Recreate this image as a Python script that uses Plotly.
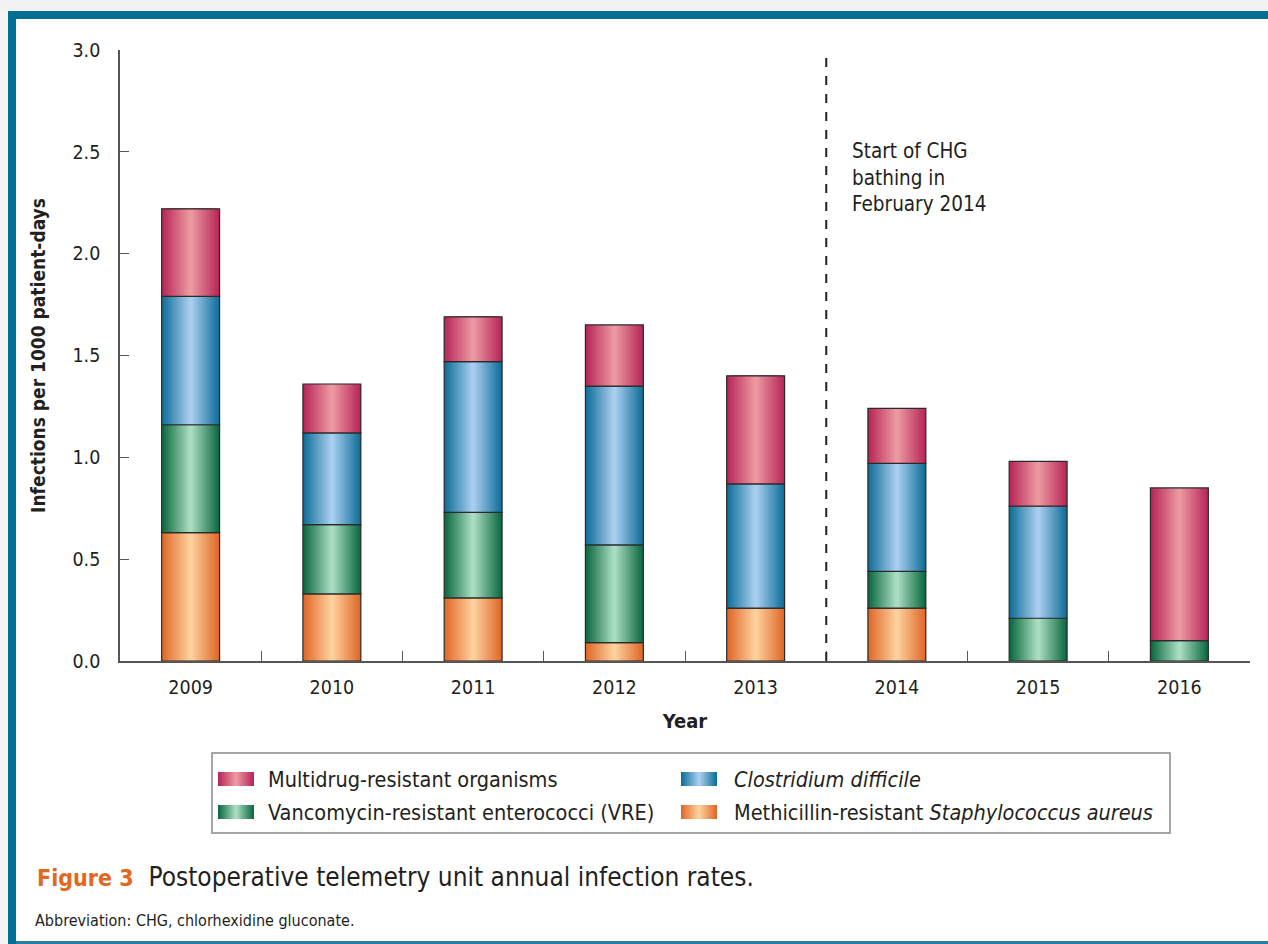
import plotly.graph_objects as go
import numpy as np

# ---------------- data ----------------
years = ['2009', '2010', '2011', '2012', '2013', '2014', '2015', '2016']
mrsa = [0.63, 0.33, 0.31, 0.09, 0.26, 0.26, 0.0, 0.0]
vre = [0.53, 0.34, 0.42, 0.48, 0.0, 0.18, 0.21, 0.10]
cdiff = [0.63, 0.45, 0.74, 0.78, 0.61, 0.53, 0.55, 0.0]
mdro = [0.43, 0.24, 0.22, 0.30, 0.53, 0.27, 0.22, 0.75]

series_names = ['Methicillin-resistant <i>Staphylococcus aureus</i>',
                'Vancomycin-resistant enterococci (VRE)',
                '<i>Clostridium difficile</i>',
                'Multidrug-resistant organisms']
series_values = [mrsa, vre, cdiff, mdro]
edge_colors = ['#e0692a', '#0d6a42', '#11709a', '#b8285a']
center_colors = ['#fdd09c', '#a9dcc0', '#a8cdee', '#eb98a0']

W, H = 1268, 944
ML, MR, MT, MB = 120, 18, 50, 283
PW = W - ML - MR
PH = H - MT - MB
FONT = "Liberation Sans Narrow, DejaVu Sans Condensed, Arial Narrow, sans-serif"
TXT = '#231f20'


def PX(px):
    return (px - ML) / PW


def PY(py):
    return (H - MB - py) / PH


def hex2rgb(h):
    h = h.lstrip('#')
    return np.array([int(h[i:i + 2], 16) for i in (0, 2, 4)], dtype=float)


def lerp(c1, c2, t):
    a, b = hex2rgb(c1), hex2rgb(c2)
    c = a + (b - a) * t
    return 'rgb(%d,%d,%d)' % tuple(np.round(c).astype(int))


BAR_W = 0.41
NSTEP = 14

fig = go.Figure()
cum = np.zeros(len(years))
for name, vals, ec, cc in zip(series_names, series_values, edge_colors, center_colors):
    vals = np.array(vals, dtype=float)
    yv = [v if v > 0 else None for v in vals]
    base = cum.copy()
    for k in range(NSTEP):
        t = k / (NSTEP - 1)
        w = BAR_W * (1 - k / NSTEP)
        fig.add_trace(go.Bar(x=years, y=yv, base=base, width=w,
                             marker=dict(color=lerp(ec, cc, t), line=dict(width=0)),
                             showlegend=False, hoverinfo='skip'))
    fig.add_trace(go.Bar(x=years, y=yv, base=base, width=BAR_W, name=name,
                         marker=dict(color='rgba(0,0,0,0)', line=dict(width=1.2, color='#2a2a2a')),
                         showlegend=False))
    cum = cum + vals

shapes = []
# page decoration
shapes.append(dict(type='rect', xref='paper', yref='paper', x0=PX(0), x1=PX(W), y0=PY(0), y1=PY(10),
                   fillcolor='#f2f2f2', line=dict(width=0), layer='below'))
shapes.append(dict(type='rect', xref='paper', yref='paper', x0=PX(0), x1=PX(8), y0=PY(10), y1=PY(H),
                   fillcolor='#f4f4f4', line=dict(width=0), layer='below'))
shapes.append(dict(type='rect', xref='paper', yref='paper', x0=PX(8), x1=PX(W), y0=PY(11), y1=PY(19),
                   fillcolor='#006f94', line=dict(width=0), layer='below'))
shapes.append(dict(type='rect', xref='paper', yref='paper', x0=PX(8), x1=PX(16), y0=PY(11), y1=PY(H),
                   fillcolor='#006f94', line=dict(width=0), layer='below'))
shapes.append(dict(type='rect', xref='paper', yref='paper', x0=PX(16), x1=PX(W), y0=PY(941), y1=PY(H),
                   fillcolor='#2a7fa0', line=dict(width=0), layer='below'))
# dashed line
shapes.append(dict(type='line', xref='x', yref='y', x0=4.5, x1=4.5, y0=0, y1=3.0,
                   line=dict(color='#222222', width=2, dash='dash')))
# legend box
shapes.append(dict(type='rect', xref='paper', yref='paper', x0=PX(212), x1=PX(1170), y0=PY(753), y1=PY(833),
                   fillcolor='white', line=dict(color='#8a8a8a', width=1.5)))

annotations = []
# legend entries: (series index, swatch x, text x, row y)
legend_layout = [(3, 218, 266, 779), (2, 681, 732, 779), (1, 218, 266, 812), (0, 681, 732, 812)]
for idx, sx, tx, ry in legend_layout:
    ec, cc = edge_colors[idx], center_colors[idx]
    sw = 36
    for k in range(NSTEP):
        t = k / (NSTEP - 1)
        half = sw / 2 * (1 - k / NSTEP)
        cx = sx + sw / 2
        shapes.append(dict(type='rect', xref='paper', yref='paper', x0=PX(cx - half), x1=PX(cx + half),
                           y0=PY(ry - 7), y1=PY(ry + 7), fillcolor=lerp(ec, cc, t), line=dict(width=0)))
    annotations.append(dict(xref='paper', yref='paper', x=PX(tx), y=PY(ry), xanchor='left', yanchor='middle',
                            text=series_names[idx], showarrow=False, font=dict(size=21.5, color=TXT, family=FONT)))

annotations.append(dict(xref='x', yref='y', x=4.5, xshift=24, y=(H - MB - 137) / PH * 3.0,
                        xanchor='left', yanchor='top', align='left', showarrow=False,
                        text='Start of CHG<br>bathing in<br>February 2014',
                        font=dict(size=20.5, color=TXT, family=FONT)))
annotations.append(dict(xref='paper', yref='paper', x=PX(35), y=PY(877), xanchor='left', yanchor='middle',
                        showarrow=False,
                        text='<b><span style="color:#e2681f;font-size:23px">Figure 3</span></b>  Postoperative telemetry unit annual infection rates.',
                        font=dict(size=26, color=TXT, family=FONT)))
annotations.append(dict(xref='paper', yref='paper', x=PX(33), y=PY(920), xanchor='left', yanchor='middle',
                        showarrow=False, text='Abbreviation: CHG, chlorhexidine gluconate.',
                        font=dict(size=16, color=TXT, family=FONT)))

fig.update_layout(
    width=W, height=H,
    margin=dict(l=ML, r=MR, t=MT, b=MB, pad=0),
    paper_bgcolor='white', plot_bgcolor='white',
    barmode='overlay',
    showlegend=False,
    font=dict(family=FONT, color=TXT, size=19),
    shapes=shapes,
    annotations=annotations,
    xaxis=dict(type='category', categoryorder='array', categoryarray=years,
               showline=True, linecolor='#555555', linewidth=1.5,
               ticks='inside', tickson='boundaries', ticklen=10, tickcolor='#555555', tickwidth=1.3,
               showgrid=False, zeroline=False, ticklabelstandoff=8,
               tickfont=dict(size=19.5, color=TXT, family=FONT),
               title=dict(text='<b>Year</b>', font=dict(size=20, color=TXT, family=FONT), standoff=16)),
    yaxis=dict(range=[0, 3.0], tickvals=[0, 0.5, 1.0, 1.5, 2.0, 2.5, 3.0], tickformat='.1f',
               showline=True, linecolor='#555555', linewidth=1.5,
               ticks='inside', ticklen=9, tickcolor='#555555', tickwidth=1.3,
               showgrid=False, zeroline=False, ticklabelstandoff=14,
               tickfont=dict(size=19.5, color=TXT, family=FONT),
               title=dict(text='<b>Infections per 1000 patient-days</b>',
                          font=dict(size=19, color=TXT, family=FONT), standoff=22)),
)

fig.write_html('out.html')
